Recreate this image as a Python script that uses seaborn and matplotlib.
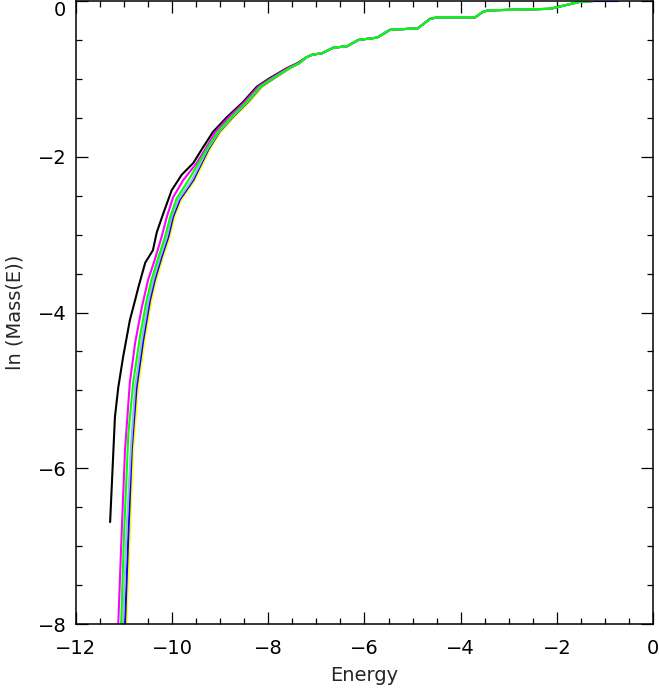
import matplotlib
matplotlib.use("Agg")
import matplotlib.pyplot as plt
from matplotlib.ticker import MultipleLocator
import seaborn as sns

# shared upper part of all curves (they coincide above E ~ -7.4)
tail_x = [-7.20, -7.09, -6.88, -6.65, -6.36, -6.13, -5.74, -5.47, -4.89, -4.64,
          -4.49, -3.70, -3.54, -3.43, -2.14, -1.52, -1.25]
tail_y = [-0.72, -0.69, -0.67, -0.60, -0.58, -0.50, -0.47, -0.37, -0.35, -0.23,
          -0.21, -0.21, -0.14, -0.12, -0.10, -0.01, 0.0]

black_x = [-11.29, -11.19, -11.12, -11.02, -10.88, -10.77, -10.70, -10.56, -10.40,
           -10.32, -10.18, -10.01, -9.80, -9.56, -9.39, -9.15, -8.86, -8.53, -8.24,
           -7.97, -7.61, -7.40]
black_y = [-6.69, -5.34, -4.96, -4.57, -4.10, -3.84, -3.67, -3.36, -3.20,
           -2.97, -2.72, -2.43, -2.23, -2.08, -1.91, -1.68, -1.49, -1.30, -1.10,
           -0.99, -0.86, -0.80]

magenta_x = [-11.14, -11.12, -11.05, -10.98, -10.88, -10.77, -10.63, -10.50, -10.36,
             -10.22, -10.11, -9.98, -9.77, -9.49, -9.32, -9.10, -8.82, -8.50, -8.21,
             -7.94, -7.59, -7.39]
magenta_y = [-8.50, -7.98, -6.83, -5.76, -4.90, -4.39, -3.93, -3.58, -3.32,
             -3.03, -2.77, -2.52, -2.30, -2.08, -1.91, -1.68, -1.49, -1.30, -1.10,
             -0.99, -0.86, -0.80]

green_x = [-11.08, -11.06, -11.00, -10.91, -10.81, -10.67, -10.53, -10.43, -10.29,
           -10.15, -10.04, -9.91, -9.66, -9.29, -9.05, -8.77, -8.46, -8.17, -7.90,
           -7.56, -7.37]
green_y = [-8.50, -7.98, -6.83, -5.55, -4.90, -4.31, -3.84, -3.58, -3.30,
           -3.03, -2.77, -2.54, -2.30, -1.91, -1.68, -1.49, -1.30, -1.10, -0.99,
           -0.86, -0.80]

lightblue_x = [-11.04, -11.02, -10.95, -10.86, -10.77, -10.63, -10.49, -10.39, -10.25,
               -10.11, -10.01, -9.87, -9.59, -9.27, -9.03, -8.75, -8.44, -8.16, -7.89,
               -7.55, -7.36]
lightblue_y = [-8.50, -7.98, -6.83, -5.76, -4.96, -4.35, -3.84, -3.58, -3.29,
               -3.03, -2.77, -2.55, -2.30, -1.91, -1.68, -1.49, -1.30, -1.10, -0.99,
               -0.86, -0.80]

blue_x = [-11.00, -10.98, -10.91, -10.84, -10.74, -10.60, -10.46, -10.36, -10.22,
          -10.08, -9.98, -9.84, -9.56, -9.25, -9.02, -8.74, -8.43, -8.15, -7.88,
          -7.55, -7.36]
blue_y = [-8.50, -7.98, -6.83, -5.76, -4.96, -4.35, -3.84, -3.58, -3.29,
          -3.03, -2.77, -2.55, -2.30, -1.91, -1.68, -1.49, -1.30, -1.10, -0.99,
          -0.86, -0.80]

yellow_x = [-10.97, -10.95, -10.88, -10.81, -10.71, -10.57, -10.43, -10.33, -10.19,
            -10.05, -9.95, -9.81, -9.53, -9.22, -8.99, -8.71, -8.40, -8.12, -7.86,
            -7.54, -7.35]
yellow_y = [-8.50, -7.98, -6.83, -5.76, -4.96, -4.35, -3.84, -3.58, -3.29,
            -3.03, -2.77, -2.55, -2.30, -1.91, -1.68, -1.49, -1.30, -1.10, -0.99,
            -0.86, -0.80]

# where the curves run out along the top edge
yellow_end = [-0.93]
blue_end = [-0.73]

x_ticks = [-12, -10, -8, -6, -4, -2, 0]
y_ticks = [-8, -6, -4, -2, 0]

sns.set_style("ticks")
plt.rcParams['font.family'] = ['DejaVu Sans']

fig = plt.figure(figsize=(6.59, 6.89), dpi=100)
ax = fig.add_axes([0.1153, 0.0943, 0.8756, 0.9042])

series = [
    ("black", black_x + tail_x, black_y + tail_y),
    ("magenta", magenta_x + tail_x, magenta_y + tail_y),
    ("yellow", yellow_x + tail_x + yellow_end, yellow_y + tail_y + [0.0]),
    ("blue", blue_x + tail_x + blue_end, blue_y + tail_y + [0.0]),
    ("#a0b4e0", lightblue_x + tail_x, lightblue_y + tail_y),
    ("#00ff00", green_x + tail_x, green_y + tail_y),
]
for col, xs, ys in series:
    sns.lineplot(x=xs, y=ys, color=col, lw=1.5, sort=False, estimator=None, ax=ax)

ax.set_xlim(-12, 0)
ax.set_ylim(-8, 0)
ax.set_xticks(x_ticks)
ax.set_yticks(y_ticks)
ax.xaxis.set_minor_locator(MultipleLocator(0.5))
ax.yaxis.set_minor_locator(MultipleLocator(0.5))
ax.tick_params(which='both', direction='in', top=True, right=True, width=0.9,
               colors='black', labelsize=14)
ax.tick_params(which='major', length=8.6)
ax.tick_params(which='minor', length=4.3)
ax.tick_params(axis='x', which='major', pad=11)
ax.tick_params(axis='y', which='major', pad=7)
for s in ax.spines.values():
    s.set_linewidth(1.1)
    s.set_color('black')

# keep the top "0" label inside the figure, as in the reference
ax.get_yticklabels()[-1].set_verticalalignment('top')

ax.set_xlabel("Energy", fontsize=14)
ax.set_ylabel("ln (Mass(E))", fontsize=14)
ax.xaxis.set_label_coords(0.5, -0.068)
ax.yaxis.set_label_coords(-0.09, 0.5)

fig.savefig("out.png", dpi=100)
